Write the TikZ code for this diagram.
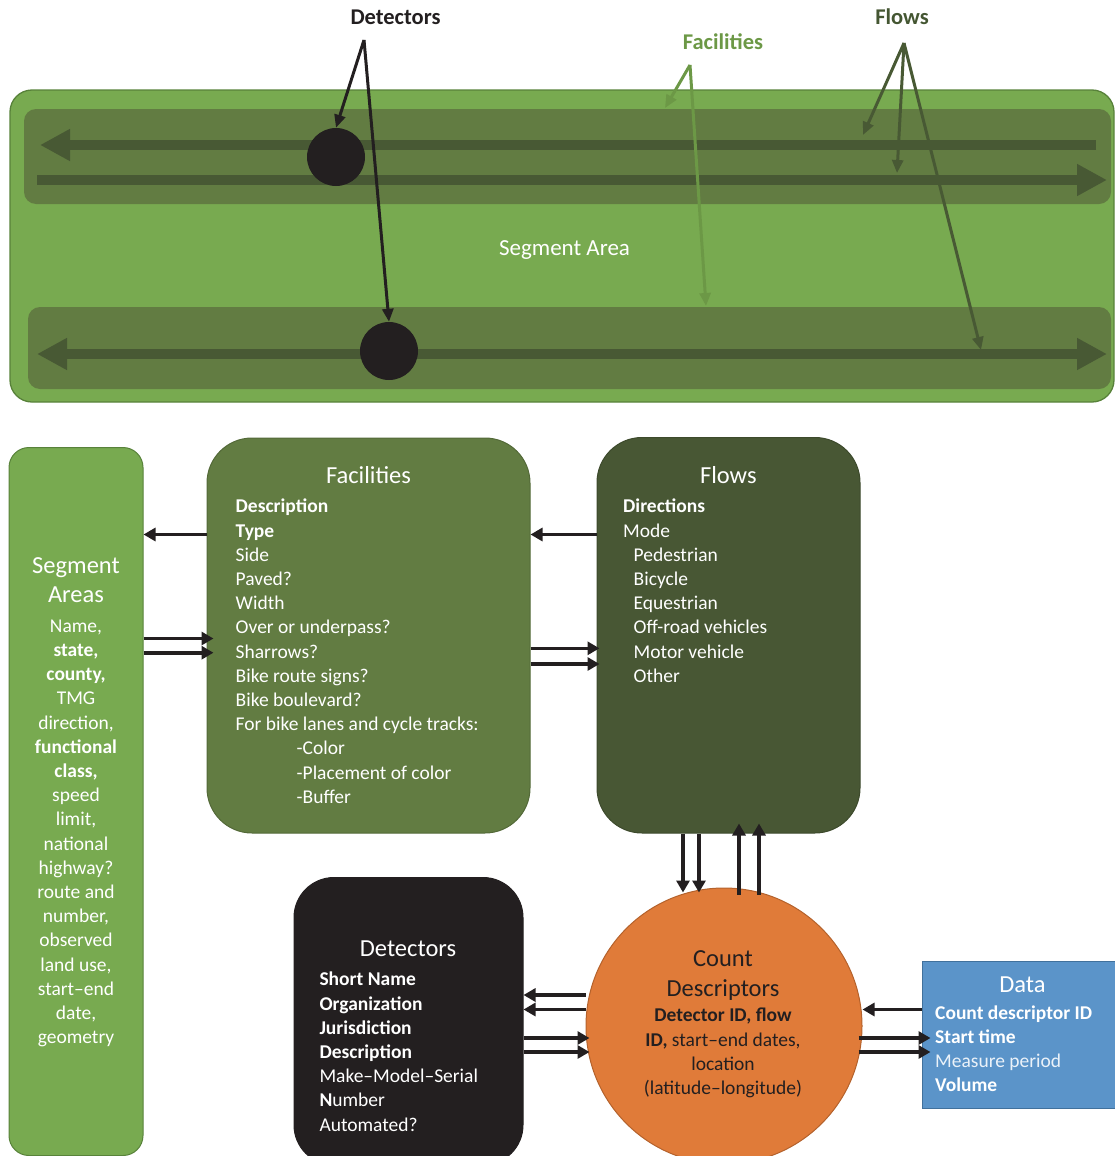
\documentclass[tikz,border=0pt]{standalone}
\usepackage{fontspec}
\setmainfont{Carlito}
\usetikzlibrary{arrows.meta}
\definecolor{segGreen}{RGB}{120,170,80}
\definecolor{segEdge}{RGB}{88,130,58}
\definecolor{bandOlive}{RGB}{98,124,66}
\definecolor{bandArrow}{RGB}{72,89,52}
\definecolor{flowsBox}{RGB}{72,87,52}
\definecolor{facLabel}{RGB}{108,152,70}
\definecolor{flowLabel}{RGB}{68,86,50}
\definecolor{detBlack}{RGB}{35,31,32}
\definecolor{cntOrange}{RGB}{224,123,57}
\definecolor{cntEdge}{RGB}{180,98,44}
\definecolor{dataBlue}{RGB}{91,148,201}
\definecolor{dataEdge}{RGB}{65,113,156}
\newcommand\bodyfont{\fontsize{19.5}{24.2}\selectfont}
\newcommand\titlefont{\fontsize{24.5}{29.5}\selectfont}
\newcommand\lblfont{\fontsize{22.5}{27}\selectfont\bfseries}
\begin{document}
\begin{tikzpicture}[x=1pt,y=-1pt,
  conn/.style={line width=3.6pt, draw=detBlack, -{Triangle[length=12pt,width=13pt]}},
  bandline/.style={line width=10pt, draw=bandArrow},
  detarr/.style={line width=3pt, draw=detBlack, -{Triangle[length=13pt,width=11pt]}},
  facarr/.style={line width=3pt, draw=facLabel, -{Triangle[length=13pt,width=11pt]}},
  flowarr/.style={line width=3pt, draw=bandArrow, -{Triangle[length=13pt,width=11pt]}},
  lbl/.style={inner sep=0pt, font=\lblfont, anchor=base},
  wtxt/.style={inner sep=0pt, text=white},
  box/.style={inner sep=0pt, line width=1pt}
]
\useasboundingbox (0,0) rectangle (1114,1156);
% ---------- top scene ----------
\node[box, draw=segEdge, fill=segGreen, rounded corners=22pt, line width=1.3pt,
      minimum width=1104pt, minimum height=312pt] (segarea) at (562,246) {};
\node[box, draw=none, fill=bandOlive, rounded corners=12pt,
      minimum width=1087pt, minimum height=95pt] (band1) at (567.5,156.5) {};
\node[box, draw=none, fill=bandOlive, rounded corners=12pt,
      minimum width=1083pt, minimum height=82pt] (band2) at (569.5,348) {};
\draw[bandline, -{Triangle[length=30pt,width=30pt]}] (1096,145) -- (40,145);
\draw[bandline, -{Triangle[length=30pt,width=30pt]}] (37,180) -- (1107,180);
\draw[bandline, {Triangle[length=30pt,width=30pt]}-{Triangle[length=30pt,width=30pt]}] (37,354) -- (1107,354);
\node[wtxt, font=\fontsize{23}{27}\selectfont, anchor=base] (segAreaLbl) at (564.5,255) {Segment Area};

\node[lbl, text=detBlack] (lblDet) at (395.5,25) {Detectors};
\node[lbl, text=facLabel] (lblFac) at (723,49) {Facilities};
\node[lbl, text=flowLabel] (lblFlow) at (902,25) {Flows};

\coordinate (facO) at (690,65);
\coordinate (facT1) at (665,108);
\coordinate (facT2) at (706,306);
\draw[facarr] (facO) -- (facT1);
\draw[facarr] (facO) -- (facT2);

\coordinate (flO) at (904,43);
\coordinate (flT1) at (863,135);
\coordinate (flT2) at (897,173);
\coordinate (flT3) at (981,350);
\draw[flowarr] (flO) -- (flT1);
\draw[flowarr] (flO) -- (flT2);
\draw[flowarr] (flO) -- (flT3);

\node[circle, fill=detBlack, minimum size=58pt, inner sep=0pt] (d1) at (336,157) {};
\node[circle, fill=detBlack, minimum size=58pt, inner sep=0pt] (d2) at (389,351) {};
\coordinate (detO) at (364,40);
\draw[detarr] (detO) -- (d1.north);
\draw[detarr] (detO) -- (d2.north);

% ---------- bottom diagram ----------
\node[box, draw=segEdge, fill=segGreen, rounded corners=20pt,
      minimum width=134pt, minimum height=708pt] (seg) at (76,801.5) {};
\node[box, draw=bandOlive!85!black, fill=bandOlive, rounded corners=45pt,
      minimum width=323pt, minimum height=395pt] (fac) at (368.5,635.5) {};
\node[box, draw=flowsBox!85!black, fill=flowsBox, rounded corners=45pt,
      minimum width=263pt, minimum height=395.5pt] (flows) at (728.5,635.25) {};
\node[box, draw=detBlack, fill=detBlack, rounded corners=40pt,
      minimum width=229pt, minimum height=287.5pt] (det) at (408.5,1021.25) {};
\node[circle, box, draw=cntEdge, fill=cntOrange, minimum size=276pt] (cnt) at (724,1026) {};
\node[box, draw=dataEdge, fill=dataBlue, minimum width=196pt, minimum height=147pt] (data) at (1020,1034.5) {};

% texts
\node[wtxt, align=center, anchor=north, font=\titlefont] (segT) at (76,552.6) {\strut Segment\\Areas};
\node[wtxt, align=center, anchor=north, font=\bodyfont] (segB) at (76,615.1)
  {\strut Name,\\\textbf{state,}\\\textbf{county,}\\TMG\\direction,\\\textbf{functional}\\\textbf{class,}\\speed\\limit,\\national\\highway?\\route and\\number,\\observed\\land use,\\start--end\\date,\\geometry};

\node[wtxt, anchor=base, font=\titlefont] (facT) at (368.5,483.3) {Facilities};
\node[wtxt, align=left, anchor=north west, font=\bodyfont] (facB) at (235.5,495.8)
  {\strut\textbf{Description}\\\textbf{Type}\\Side\\Paved?\\Width\\Over or underpass?\\Sharrows?\\Bike route signs?\\Bike boulevard?\\For bike lanes and cycle tracks:\\\hspace*{61pt}-Color\\\hspace*{61pt}-Placement of color\\\hspace*{61pt}-Buffer};

\node[wtxt, anchor=base, font=\titlefont] (flowsT) at (728.3,483.3) {Flows};
\node[wtxt, align=left, anchor=north west, font=\bodyfont] (flowsB) at (623,495.8)
  {\strut\textbf{Directions}\\Mode\\\hspace*{10.5pt}Pedestrian\\\hspace*{10.5pt}Bicycle\\\hspace*{10.5pt}Equestrian\\\hspace*{10.5pt}Off-road vehicles\\\hspace*{10.5pt}Motor vehicle\\\hspace*{10.5pt}Other};

\node[wtxt, anchor=base, font=\titlefont] (detT) at (408,956.7) {Detectors};
\node[wtxt, align=left, anchor=north west, font=\bodyfont] (detB) at (319.3,968.8)
  {\strut\textbf{Short Name}\\\textbf{Organization}\\\textbf{Jurisdiction}\\\textbf{Description}\\Make--Model--Serial\\\textbf{N}umber\\Automated?};

\node[inner sep=0pt, text=detBlack, align=center, anchor=north, font=\titlefont] (cntT) at (723,946)
  {\strut Count\\Descriptors};
\node[inner sep=0pt, text=detBlack, align=center, anchor=north, font=\bodyfont] (cntB) at (723,1004.8)
  {\strut\textbf{Detector ID, flow}\\\textbf{ID,} start--end dates,\\location\\(latitude--longitude)};

\node[wtxt, anchor=base, font=\titlefont] (dataT) at (1022.5,992.7) {Data};
\node[wtxt, align=left, anchor=north west, font=\bodyfont] (dataB) at (935,1002)
  {\strut\textbf{Count descriptor ID}\\\textbf{Start time}\\\textcolor{white!88!dataBlue}{Measure period}\\\textbf{Volume}};

% connectors
\draw[conn] (fac.west |- 0,534.5) -- (seg.east |- 0,534.5);
\draw[conn] (flows.west |- 0,534.5) -- (fac.east |- 0,534.5);
\draw[conn, shorten >=-7pt] (seg.east |- 0,638.5) -- (fac.west |- 0,638.5);
\draw[conn, shorten >=-7pt] (seg.east |- 0,652.7) -- (fac.west |- 0,652.7);
\draw[conn, shorten >=-3pt] (fac.east |- 0,648.3) -- (flows.west |- 0,648.3);
\draw[conn, shorten >=-3pt] (fac.east |- 0,664) -- (flows.west |- 0,664);
\draw[conn, shorten >=-5pt] (flows.south -| 683,0) -- (cnt.north -| 683,0);
\draw[conn, shorten >=-5pt] (flows.south -| 699,0) -- (cnt.north -| 699,0);
\draw[conn, shorten <=-7pt, shorten >=-10pt] (cnt.north -| 739,0) -- (flows.south -| 739,0);
\draw[conn, shorten <=-7pt, shorten >=-10pt] (cnt.north -| 759,0) -- (flows.south -| 759,0);
\draw[conn] (cnt.west |- 0,995) -- (det.east |- 0,995);
\draw[conn] (cnt.west |- 0,1009.5) -- (det.east |- 0,1009.5);
\draw[conn, shorten >=-4pt] (det.east |- 0,1038) -- (cnt.west |- 0,1038);
\draw[conn, shorten >=-4pt] (det.east |- 0,1052) -- (cnt.west |- 0,1052);
\draw[conn] (data.west |- 0,1009.5) -- (cnt.east |- 0,1009.5);
\draw[conn, shorten <=-4pt, shorten >=-9pt] (cnt.east |- 0,1038) -- (data.west |- 0,1038);
\draw[conn, shorten <=-4pt, shorten >=-9pt] (cnt.east |- 0,1052) -- (data.west |- 0,1052);
\end{tikzpicture}
\end{document}
